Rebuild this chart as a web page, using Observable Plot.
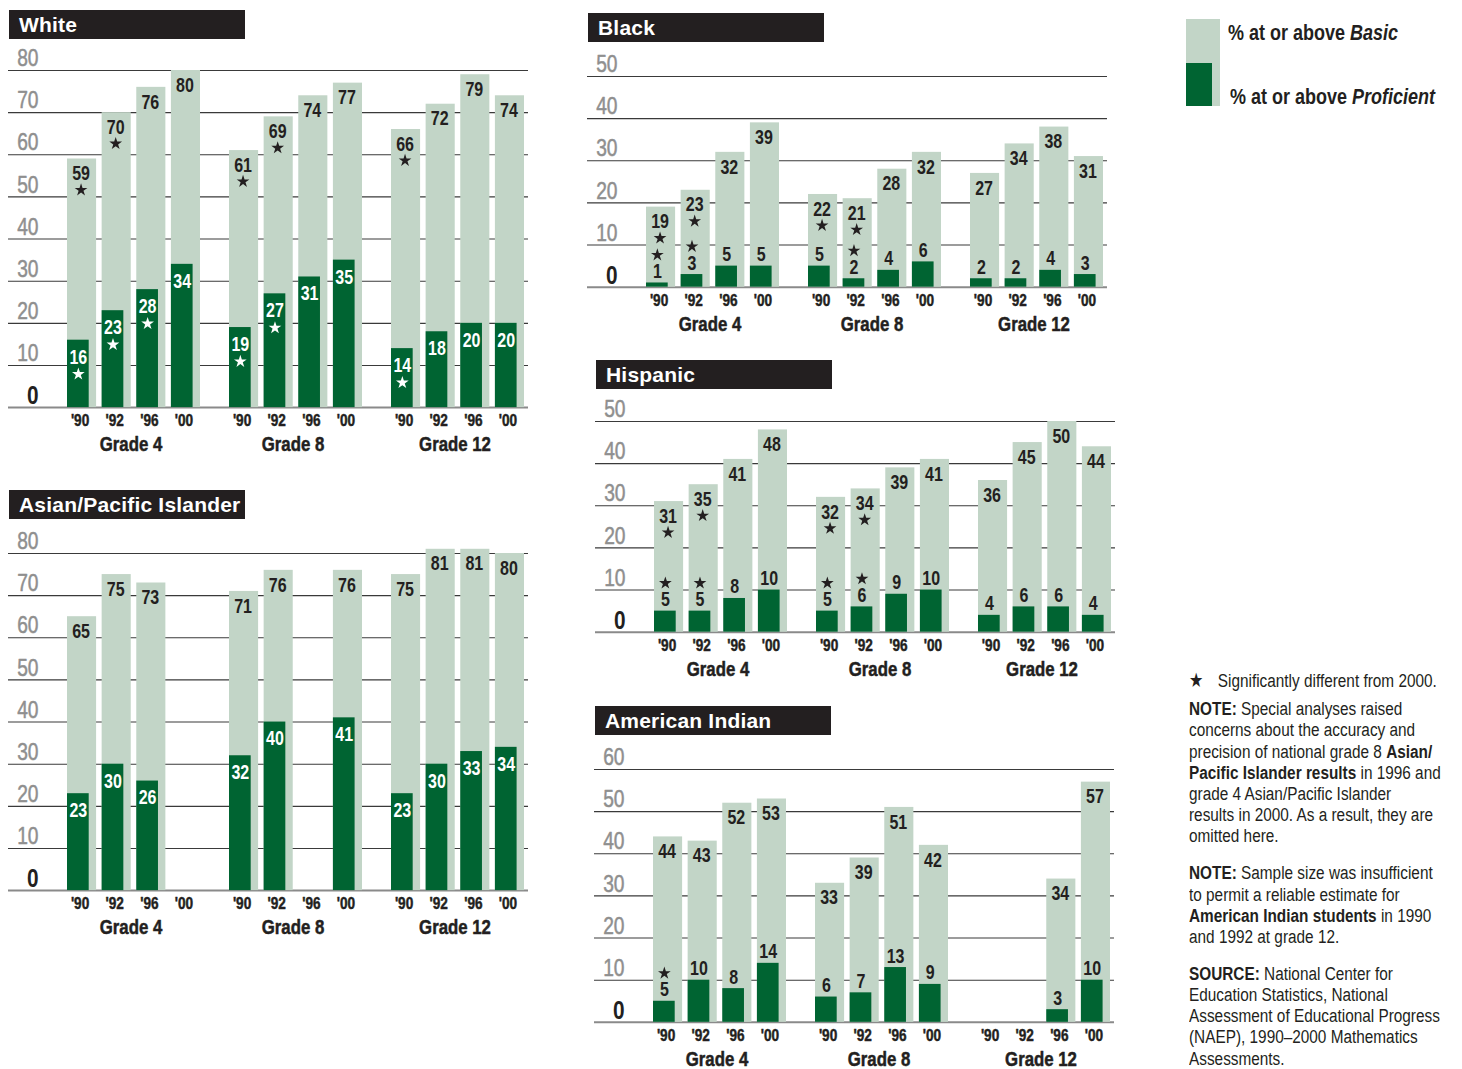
<!DOCTYPE html>
<html>
<head>
<meta charset="utf-8">
<script src="https://cdn.jsdelivr.net/npm/d3@7"></script>
<script src="https://cdn.jsdelivr.net/npm/@observablehq/plot@0.6"></script>
<style>
  html, body { margin: 0; padding: 0; background: #fff; }
  #root { position: relative; width: 1462px; height: 1069px; overflow: hidden; background: #fff; }
  .title { position: absolute; height: 29px; width: 236px; background: #231f20; color: #fff;
           font: bold 21px "Liberation Sans", Arial, sans-serif; line-height: 29px; padding-left: 10px; box-sizing: border-box; letter-spacing: 0.2px; }
  .panel { position: absolute; }
  .panel svg { position: absolute; left: 0; top: 0; }
  .narrow { font-family: "Liberation Sans", Arial, sans-serif; transform: scaleX(0.8); transform-origin: 0 0; }
  .legtext { position: absolute; font-weight: bold; font-size: 22.5px; line-height: 26px; color: #231f20; white-space: nowrap; }
  .notes { position: absolute; left: 1189px; top: 669.5px; font-size: 19.2px; line-height: 21.2px; color: #231f20; white-space: nowrap; }
  .notes .star { display: inline-block; width: 36px; font-family: "DejaVu Sans", sans-serif; font-size: 20px; }
</style>
</head>
<body>
<div id="root"></div>
<script>
// ---------- data ----------
const years = ["'90", "'92", "'96", "'00"];
const grades = ["Grade 4", "Grade 8", "Grade 12"];
const yTicks = [0, 10, 20, 30, 40, 50, 60, 70, 80];

// order: Grade 4 ('90,'92,'96,'00), Grade 8 (...), Grade 12 (...)
const whiteBasic      = [59, 70, 76, 80,  61, 69, 74, 77,  66, 72, 79, 74];
const whiteProficient = [16, 23, 28, 34,  19, 27, 31, 35,  14, 18, 20, 20];
const whiteBasicStar  = [1, 1, 0, 0,  1, 1, 0, 0,  1, 0, 0, 0];
const whiteProfStar   = [1, 1, 1, 0,  1, 1, 0, 0,  1, 0, 0, 0];

const asianBasic      = [65, 75, 73, null,  71, 76, null, 76,  75, 81, 81, 80];
const asianProficient = [23, 30, 26, null,  32, 40, null, 41,  23, 30, 33, 34];
const asianBasicStar  = [0, 0, 0, 0,  0, 0, 0, 0,  0, 0, 0, 0];
const asianProfStar   = [0, 0, 0, 0,  0, 0, 0, 0,  0, 0, 0, 0];

const blackBasic      = [19, 23, 32, 39,  22, 21, 28, 32,  27, 34, 38, 31];
const blackProficient = [1, 3, 5, 5,  5, 2, 4, 6,  2, 2, 4, 3];
const blackBasicStar  = [1, 1, 0, 0,  1, 1, 0, 0,  0, 0, 0, 0];
const blackProfStar   = [1, 1, 0, 0,  0, 1, 0, 0,  0, 0, 0, 0];

const hispanicBasic      = [31, 35, 41, 48,  32, 34, 39, 41,  36, 45, 50, 44];
const hispanicProficient = [5, 5, 8, 10,  5, 6, 9, 10,  4, 6, 6, 4];
const hispanicBasicStar  = [1, 1, 0, 0,  1, 1, 0, 0,  0, 0, 0, 0];
const hispanicProfStar   = [1, 1, 0, 0,  1, 1, 0, 0,  0, 0, 0, 0];

const amIndBasic      = [44, 43, 52, 53,  33, 39, 51, 42,  null, null, 34, 57];
const amIndProficient = [5, 10, 8, 14,  6, 7, 13, 9,  null, null, 3, 10];
const amIndBasicStar  = [0, 0, 0, 0,  0, 0, 0, 0,  0, 0, 0, 0];
const amIndProfStar   = [1, 0, 0, 0,  0, 0, 0, 0,  0, 0, 0, 0];

// ---------- styles & layout ----------
const LIGHT = "#c2d5c7", DARK = "#006432", INK = "#231f20", GRID = "#3a3a3a", BASE = "#8a8a8a", TICK = "#8f8f8f";
const FONT = '"Liberation Sans", Arial, sans-serif';
const SQUEEZE = 0.8;      // horizontal condensing of chart text
const K = 4.214;          // px per percentage point
const W = 530, MT = 28, MB = 50;
const DARK_INSET = 7.4;   // proficient bar narrower, left aligned

const panels = [
  {name: "White", left: 8, gridTop: 70, titleTop: 10, max: 80, inside: true,
   basic: whiteBasic, prof: whiteProficient, bs: whiteBasicStar, ps: whiteProfStar},
  {name: "Asian/Pacific Islander", left: 8, gridTop: 553.3, titleTop: 490, max: 80, inside: true,
   basic: asianBasic, prof: asianProficient, bs: asianBasicStar, ps: asianProfStar},
  {name: "Black", left: 587, gridTop: 76, titleTop: 13, max: 50, inside: false,
   basic: blackBasic, prof: blackProficient, bs: blackBasicStar, ps: blackProfStar},
  {name: "Hispanic", left: 595, gridTop: 421.3, titleTop: 360, max: 50, inside: false,
   basic: hispanicBasic, prof: hispanicProficient, bs: hispanicBasicStar, ps: hispanicProfStar},
  {name: "American Indian", left: 594, gridTop: 768.7, titleTop: 706, max: 60, inside: false,
   basic: amIndBasic, prof: amIndProficient, bs: amIndBasicStar, ps: amIndProfStar}
];

const root = document.getElementById("root");

// condense every text of an svg horizontally around its own anchor point
function condense(svg, k) {
  svg.querySelectorAll("text").forEach(t => {
    const xa = t.getAttribute("x");
    const x = xa != null && !isNaN(+xa) ? +xa : 0;
    if (xa != null && !isNaN(+xa)) t.removeAttribute("x");
    const tr = (t.getAttribute("transform") || "") + ` translate(${x},0) scale(${k},1)`;
    t.setAttribute("transform", tr.trim());
  });
  return svg;
}

function drawPanel(p) {
  const rows = d3.range(12).map(i => ({
    grade: grades[Math.floor(i / 4)], year: years[i % 4],
    basic: p.basic[i], prof: p.prof[i], bs: p.bs[i], ps: p.ps[i]
  }));
  const withBasic = rows.filter(d => d.basic != null);
  const withProf = rows.filter(d => d.prof != null);
  const ticks = yTicks.filter(t => t <= p.max);
  const H = MT + p.max * K + MB;

  const title = document.createElement("div");
  title.className = "title";
  title.style.left = (p.left + 1) + "px";
  title.style.top = p.titleTop + "px";
  title.textContent = p.name;
  root.appendChild(title);

  const box = document.createElement("div");
  box.className = "panel";
  box.style.left = p.left + "px";
  box.style.top = (p.gridTop - MT) + "px";
  box.style.width = W + "px";
  box.style.height = H + "px";
  root.appendChild(box);

  const style = {background: "transparent", fontFamily: FONT, overflow: "visible"};

  // background: gridlines + y tick labels
  const bg = Plot.plot({
    width: W, height: H, marginTop: MT, marginBottom: MB, marginLeft: 0, marginRight: W - 520,
    style,
    y: {domain: [0, p.max], axis: null},
    marks: [
      Plot.ruleY(ticks.filter(t => t > 0), {y: d => d, stroke: GRID, strokeWidth: 1.1}),
      Plot.ruleY([0], {y: d => d, stroke: BASE, strokeWidth: 2}),
      Plot.text(ticks.filter(t => t > 0), {y: d => d, text: d => String(d), frameAnchor: "left", dx: 30,
        textAnchor: "end", lineAnchor: "middle", dy: -12, fill: TICK, stroke: TICK, strokeWidth: 0.5, fontSize: 24}),
      Plot.text([0], {y: d => d, text: d => String(d), frameAnchor: "left", dx: 30,
        textAnchor: "end", lineAnchor: "middle", dy: -12, fill: INK, fontSize: 26, fontWeight: "bold"})
    ]
  });

  const dx = -DARK_INSET / 2;
  const profLabels = p.inside
    ? [Plot.text(withProf, {fx: "grade", x: "year", y: "prof", text: d => String(d.prof), dx, dy: 17,
         lineAnchor: "middle", fill: "white", fontSize: 20, fontWeight: "bold"}),
       Plot.dot(withProf.filter(d => d.ps), {fx: "grade", x: "year", y: "prof", dx, dy: 34,
         symbol: "star", r: 4, fill: "white", stroke: null})]
    : [Plot.text(withProf, {fx: "grade", x: "year", y: "prof", text: d => String(d.prof), dx, dy: -5,
         lineAnchor: "bottom", fill: INK, fontSize: 20, fontWeight: "bold"}),
       Plot.dot(withProf.filter(d => d.ps), {fx: "grade", x: "year", y: "prof", dx, dy: -28,
         symbol: "star", r: 4, fill: INK, stroke: null})];

  const fg = Plot.plot({
    width: W, height: H, marginTop: MT, marginBottom: MB, marginLeft: 59, marginRight: W - 516,
    style,
    fx: {domain: grades, paddingInner: 0.179, paddingOuter: 0, axis: null, round: false},
    x: {domain: years, paddingInner: 0.16, paddingOuter: 0, axis: null, round: false},
    y: {domain: [0, p.max], axis: null},
    marks: [
      Plot.barY(withBasic, {fx: "grade", x: "year", y: "basic", fill: LIGHT}),
      Plot.barY(withProf, {fx: "grade", x: "year", y: "prof", fill: DARK, insetRight: DARK_INSET}),
      Plot.text(withBasic, {fx: "grade", x: "year", y: "basic", text: d => String(d.basic), dx: -1, dy: 7,
        lineAnchor: "top", fill: INK, fontSize: 20, fontWeight: "bold"}),
      Plot.dot(withBasic.filter(d => d.bs), {fx: "grade", x: "year", y: "basic", dx: -1, dy: 31,
        symbol: "star", r: 4, fill: INK, stroke: null}),
      ...profLabels,
      Plot.text(rows, {fx: "grade", x: "year", text: "year", frameAnchor: "bottom", dx: -2, dy: 13,
        lineAnchor: "middle", fill: INK, stroke: INK, strokeWidth: 0.5, fontSize: 17, fontWeight: "bold"}),
      Plot.text(grades, {fx: d => d, text: d => d, frameAnchor: "bottom", dx: -3, dy: 37,
        lineAnchor: "middle", fill: INK, stroke: INK, strokeWidth: 0.5, fontSize: 21, fontWeight: "bold"})
    ]
  });

  box.appendChild(condense(bg, SQUEEZE));
  box.appendChild(condense(fg, SQUEEZE));
}

panels.forEach(drawPanel);

// legend
function addDiv(css, html, cls) {
  const d = document.createElement("div");
  if (cls) d.className = cls;
  d.style.cssText = css;
  if (html) d.innerHTML = html;
  root.appendChild(d);
  return d;
}
addDiv(`position:absolute;left:1186px;top:19px;width:34px;height:87px;background:${LIGHT}`);
addDiv(`position:absolute;left:1186px;top:63px;width:26px;height:43px;background:${DARK}`);
addDiv(`left:1228px;top:20px`, "% at or above <i>Basic</i>", "legtext narrow");
addDiv(`left:1230px;top:83.5px`, "% at or above <i>Proficient</i>", "legtext narrow");

// notes
addDiv("",
  `<div><span class="star">★</span>Significantly different from 2000.</div>
   <div style="margin-top:7.5px"><b>NOTE:</b> Special analyses raised<br>concerns about the accuracy and<br>precision of national grade 8 <b>Asian/<br>Pacific Islander results</b> in 1996 and<br>grade 4 Asian/Pacific Islander<br>results in 2000. As a result, they are<br>omitted here.</div>
   <div style="margin-top:15.7px"><b>NOTE:</b> Sample size was insufficient<br>to permit a reliable estimate for<br><b>American Indian students</b> in 1990<br>and 1992 at grade 12.</div>
   <div style="margin-top:15.7px"><b>SOURCE:</b> National Center for<br>Education Statistics, National<br>Assessment of Educational Progress<br>(NAEP), 1990–2000 Mathematics<br>Assessments.</div>`,
  "notes narrow");
</script>
</body>
</html>
